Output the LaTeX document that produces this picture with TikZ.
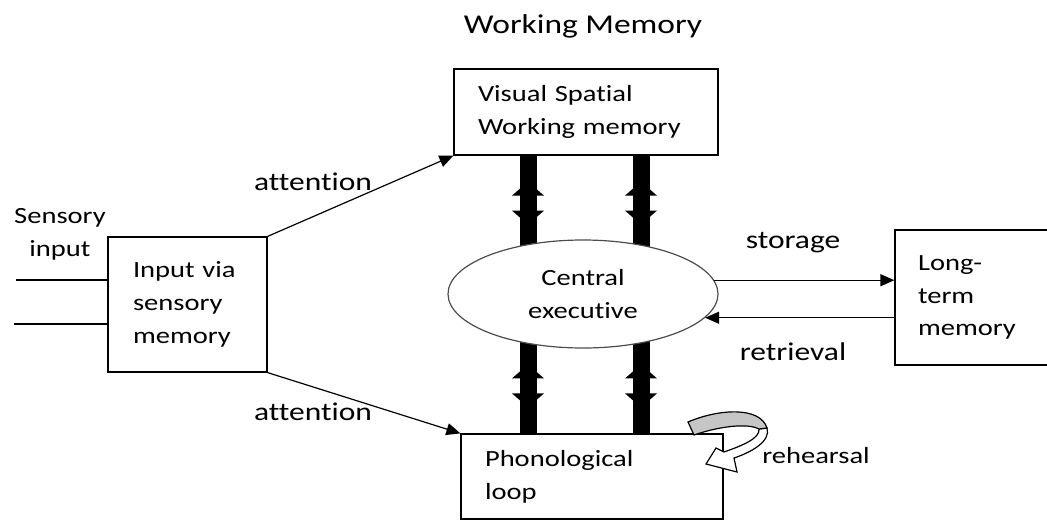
\documentclass[tikz,border=0pt]{standalone}
\usepackage{fontspec}
\setmainfont{Carlito}[FakeStretch=1.23,Ligatures=NoCommon]
\usetikzlibrary{arrows.meta,shapes.geometric,backgrounds,decorations.markings}
\newcommand{\wmlabel}[3]{\node[lbl,anchor=base] (#1) at (#2) {#3};}

\begin{document}
\begin{tikzpicture}[x=0.5pt,y=-0.5pt,line width=0.6pt,>={Triangle[length=7pt,width=6pt]},
  every node/.style={font=\fontsize{11.6pt}{16.4pt}\selectfont},
  lbl/.style={font=\fontsize{12.8pt}{16.4pt}\selectfont},
  box/.style={draw,rectangle,align=left,inner sep=0pt},
  bus/.style={line width=8.5pt,postaction={decorate},decoration={markings,
    mark=at position 20pt with {\fill (0,-8pt) -- (-7pt,0) -- (0,8pt) -- cycle;},
    mark=at position 27.5pt with {\fill (0,-8pt) -- (7pt,0) -- (0,8pt) -- cycle;}}}]
  \useasboundingbox (0,0) rectangle (1047,520);
  \clip (0,0) rectangle (1047,520);
  \node[anchor=base,font=\fontsize{13.6pt}{16pt}\selectfont] (title) at (583,33) {Working Memory};
  \node[box,minimum width=132pt,minimum height=43pt,text width=108pt] (vs) at (586,112) {Visual Spatial\\Working memory};
  \node[box,ellipse,draw=black!70,fill=white,minimum width=135pt,minimum height=54pt,align=center] (ce) at (583,294) {Central\\executive};
  \node[box,minimum width=79.5pt,minimum height=67.5pt,text width=54.5pt] (in) at (187.5,304.5) {Input via\\sensory\\memory};
  \node[box,minimum width=131pt,minimum height=42.5pt,text width=107pt] (pl) at (592,476.5) {Phonological\\loop};
  \node[box,minimum width=82.5pt,minimum height=67.5pt,text width=59.5pt] (lt) at (977.5,297.5) {Long-\\term\\memory};
  \node[align=center] (sens) at (60,234) {Sensory\\input};
  \coordinate (s1) at (16,280);
  \coordinate (s2) at (14,324);
  \draw (s1) -- (s1 -| in.west);
  \draw (s2) -- (s2 -| in.west);
  \draw[->] (in.north east) -- (vs.south west);
  \draw[->] (in.south east) -- (pl.north west);
  \wmlabel{att1}{313,190}{attention}
  \wmlabel{att2}{313,420}{attention}
  \draw[->] (ce.6) -- (ce.6 -| lt.west);
  \draw[->] (ce.-11 -| lt.west) -- (ce.-11);
  \wmlabel{stor}{793,248}{storage}
  \wmlabel{retr}{793,360}{retrieval}
  \coordinate (bl) at (528,0);
  \coordinate (br) at (641,0);
  \begin{scope}[on background layer]
    \draw[bus] (vs.south -| bl) -- (ce.center -| bl);
    \draw[bus] (vs.south -| br) -- (ce.center -| br);
    \draw[bus] (pl.north -| bl) -- (ce.center -| bl);
    \draw[bus] (pl.north -| br) -- (ce.center -| br);
  \end{scope}
  \filldraw[fill=white] (767,428) .. controls (771,441) and (752,452) .. (734,458) -- (737,472) -- (706,464) -- (716,448) -- (724,452) .. controls (744,445) and (760,438) .. (759,429) -- cycle;
  \filldraw[fill=gray!45] (688,422) .. controls (718,409) and (760,406) .. (767,428) -- (759,429) .. controls (748,423) and (720,426) .. (694,435) -- cycle;
  \node[anchor=base west] (reh) at (755,463) {rehearsal};
\end{tikzpicture}
\end{document}
